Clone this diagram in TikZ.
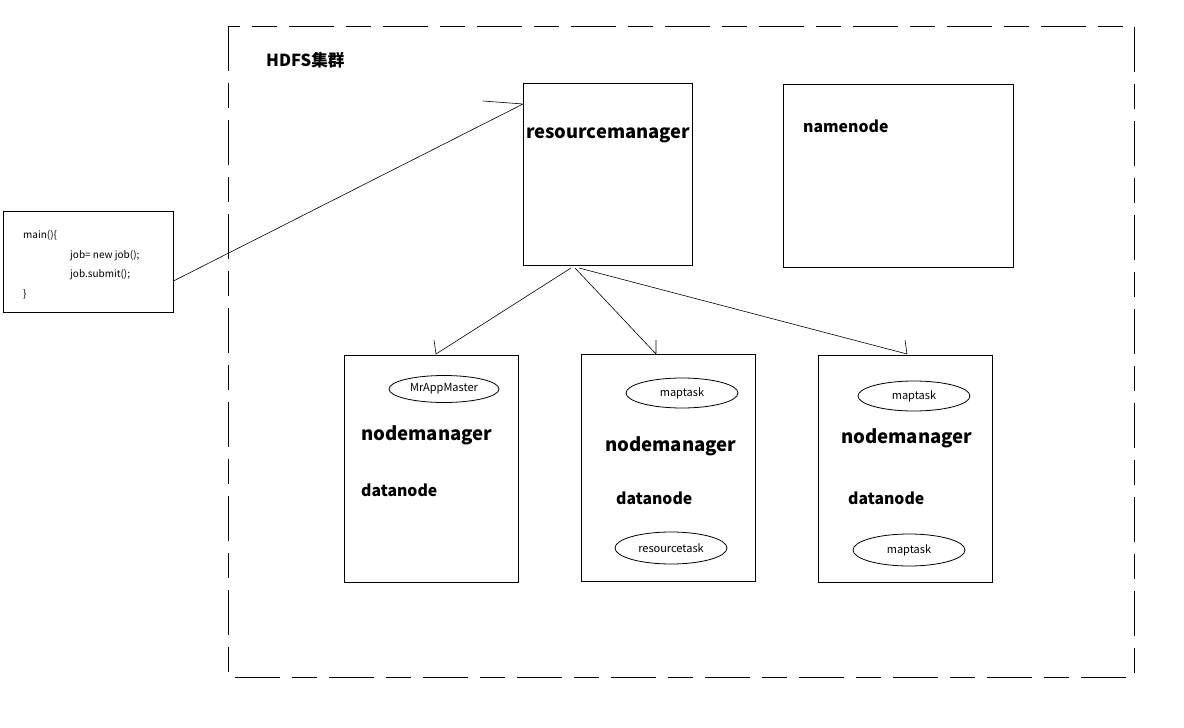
\documentclass[tikz,border=0pt]{standalone}
\usepackage{fontspec}
\setmainfont{Noto Sans CJK SC}
\usetikzlibrary{shapes.geometric}
\begin{document}
\begin{tikzpicture}[x=1pt,y=-1pt,
  box/.style={draw,line width=0.9pt},
  oval/.style={draw,ellipse,line width=0.8pt,inner sep=0pt,minimum width=112pt,minimum height=30pt,font=\fontsize{11}{13}\selectfont},
  big/.style={anchor=base west,inner sep=0pt,font=\fontsize{18.6}{20}\selectfont\bfseries},
  mid/.style={anchor=base west,inner sep=0pt,font=\fontsize{15.8}{18}\selectfont\bfseries},
  code/.style={anchor=base west,inner sep=0pt,font=\fontsize{10}{12}\selectfont},
  conn/.style={line width=0.6pt}]
\useasboundingbox (0,0) rectangle (1184,728);
\fill[white] (0,0) rectangle (1184,728);
% cluster
\draw[line width=1pt,dash pattern=on 45pt off 12pt on 25pt off 12pt] (228,26) rectangle (1134,677);
\node[mid,font=\fontsize{16.6}{18}\selectfont\bfseries] (hdfs) at (266,66) {HDFS集群};
% code box
\node[box,minimum width=170pt,minimum height=101pt,inner sep=0pt] (code) at (88,261.5) {};
\node[code] (l1) at (23,238) {main()\{};
\node[code] (l2) at (70,258) {job= new job();};
\node[code] (l3) at (70,277) {job.submit();};
\node[code] (l4) at (23,297) {\}};
% resourcemanager
\node[box,minimum width=169pt,minimum height=182pt,inner sep=0pt] (rm) at (607.5,174) {};
\node[big,font=\fontsize{18.4}{20}\selectfont\bfseries] (rmt) at (526,138) {resourcemanager};
% namenode
\node[box,minimum width=230pt,minimum height=183pt,inner sep=0pt] (nn) at (898,175.5) {};
\node[mid] (nnt) at (803,132) {namenode};
% node managers
\node[box,minimum width=174pt,minimum height=227pt,inner sep=0pt] (n1) at (431,468.5) {};
\node[box,minimum width=174pt,minimum height=227pt,inner sep=0pt] (n2) at (668,467.5) {};
\node[box,minimum width=174pt,minimum height=227pt,inner sep=0pt] (n3) at (905,468.5) {};
\node[oval,minimum width=110pt,minimum height=27pt] (e1) at (444,389) {MrAppMaster};
\node[big] (n1a) at (361,440) {nodemanager};
\node[mid] (n1b) at (361,496) {datanode};
\node[oval] (e2) at (682,393) {maptask};
\node[big] (n2a) at (605,451) {nodemanager};
\node[mid] (n2b) at (616,504) {datanode};
\node[oval,minimum height=32pt] (e3) at (671,548) {resourcetask};
\node[oval] (e4) at (914,396) {maptask};
\node[big] (n3a) at (841,443) {nodemanager};
\node[mid] (n3b) at (848,504) {datanode};
\node[oval,minimum height=32pt] (e5) at (909,550) {maptask};
% connectors
\coordinate (rmin) at (523,104);
\coordinate (b0) at (483,101);
\draw[conn] (code.east |- 0,281) -- (rmin) -- (b0);
\coordinate (s1) at (571,268);
\coordinate (s2) at (575,268);
\coordinate (s3) at (579,268);
\coordinate (t1) at (436,354);
\coordinate (t2) at (656,354);
\coordinate (t3) at (907,354);
\draw[conn] (s1) -- (t1) -- ++(-2,-14);
\draw[conn] (s2) -- (t2) -- ++(0,-14);
\draw[conn] (s3) -- (t3) -- ++(-2,-14);
\end{tikzpicture}
\end{document}
